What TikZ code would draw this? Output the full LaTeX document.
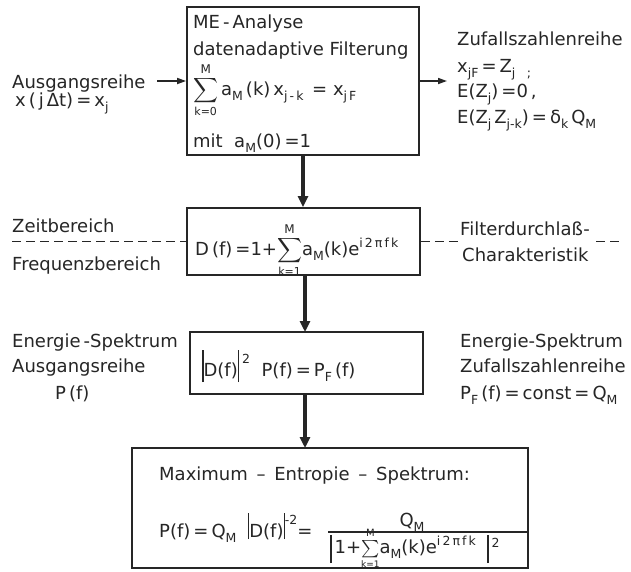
\documentclass[tikz,border=0pt]{standalone}
\usepackage{amsmath}
\usepackage{fontspec}
\setmainfont{DejaVu Sans}
\usetikzlibrary{arrows.meta}
\newcommand{\lo}[1]{\raisebox{-5pt}{\fontsize{12.5}{14}\selectfont #1}}
\newcommand{\hi}[1]{\raisebox{8pt}{\fontsize{12.5}{14}\selectfont #1}}
\newcommand{\hiB}[1]{\raisebox{13pt}{\fontsize{12.5}{14}\selectfont #1}}
\newcommand{\Sum}[2]{$\displaystyle\sum_{\mbox{\fontsize{11}{12}\selectfont #1}}^{\mbox{\fontsize{12}{13}\selectfont #2}}$}
\newcommand{\SumS}[2]{$\textstyle\sum\limits_{\mbox{\fontsize{9}{10}\selectfont #1}}^{\mbox{\fontsize{10}{11}\selectfont #2}}$}
\newcommand{\vbarA}{\rule[-6pt]{1.4pt}{32pt}}
\newcommand{\vbarB}{\rule[-2pt]{1.4pt}{26pt}}
\newcommand{\vbarC}{\smash{\rule[-10pt]{1.4pt}{28pt}}}
\definecolor{ink}{gray}{0.15}
\begin{document}
\begin{tikzpicture}[x=1pt,y=-1pt,
  txt/.style={anchor=base west,inner sep=0pt,text=ink,font=\fontsize{18}{22}\selectfont},
  box/.style={draw=ink,line width=1.8pt,inner sep=0pt},
  flow/.style={draw=ink,line width=3.2pt,-{Triangle[length=11pt,width=10pt]}},
  side/.style={draw=ink,line width=1.6pt,-{Triangle[length=9pt,width=6pt]}},
  dashline/.style={draw=ink,line width=1.4pt,dash pattern=on 9pt off 5pt}]
\useasboundingbox[fill=white] (0,0) rectangle (631,571);

% boxes
\node[box,minimum width=232pt,minimum height=148pt] (b1) at (303,81) {};
\node[box,minimum width=233pt,minimum height=67pt] (b2) at (303.5,241.5) {};
\node[box,minimum width=233pt,minimum height=62pt] (b3) at (306.5,363) {};
\node[box,minimum width=396pt,minimum height=120pt] (b4) at (330,508) {};

% box 1 text
\node[txt] (t1a) at (193,28) {ME\,-\,Analyse};
\node[txt] (t1b) at (193,55) {datenadaptive Filterung};
\node[txt] (t1c) at (193,95) {\Sum{k=0}{M}\,a\lo{M}\,(k)\,x\lo{j\,-\,k}\ \,=\ x\lo{j\,F}};
\node[txt] (t1d) at (193,147) {mit\ \ a\lo{M}(0)\,=1};

% left of box 1
\node[txt] (l1a) at (12,88) {Ausgangsreihe};
\node[txt] (l1b) at (15,106) {x\,(\,j\,Δt)\,=\,x\lo{j}};
\coordinate (ain) at (157,81);
\draw[side] (ain) -- (b1.west);

% right of box 1
\coordinate (aout) at (447,81);
\draw[side] (b1.east) -- (aout);
\node[txt] (r1a) at (457,45) {Zufallszahlenreihe};
\node[txt] (r1b) at (457,72) {x\lo{jF}\,=\,Z\lo{j}\ \ \lo{;}};
\node[txt] (r1c) at (457,97) {E(Z\lo{j})\,=0\,,};
\node[txt] (r1d) at (457,123) {E(Z\lo{j}\,Z\lo{j-k})\,=\,δ\lo{k}\,Q\lo{M}};

% box 2 and side labels
\node[txt] (t2) at (195,255) {D\,(f)\,=1+\Sum{k=1}{M}a\lo{M}(k)e\hi{i\,2\,π\,f\,k}};
\node[txt] (l2a) at (12,232) {Zeitbereich};
\node[txt] (l2b) at (12,270) {Frequenzbereich};
\coordinate (dl) at (12,241.5);
\draw[dashline] (dl) -- (b2.west);
\coordinate (dr1) at (458,241.5);
\coordinate (dr2) at (596,241.5);
\coordinate (dr3) at (622,241.5);
\draw[dashline] (b2.east) -- (dr1);
\draw[dashline] (dr2) -- (dr3);
\node[txt] (r2a) at (460,235) {Filterdurchlaß-};
\node[txt] (r2b) at (462,261) {Charakteristik};

% box 3 and side labels
\node[txt] (t3) at (202,376) {\vbarA D(f)\vbarA\,\hiB{2}\ \ P(f)\,=\,P\lo{F}\,(f)};
\node[txt] (l3a) at (12,347) {Energie\,-Spektrum};
\node[txt] (l3b) at (12,372) {Ausgangsreihe};
\node[txt] (l3c) at (55,399) {P\,(f)};
\node[txt] (r3a) at (460,347) {Energie-Spektrum};
\node[txt] (r3b) at (460,372) {Zufallszahlenreihe};
\node[txt] (r3c) at (460,399) {P\lo{F}\,(f)\,=\,const\,=\,Q\lo{M}};

% box 4
\node[txt] (t4a) at (159,480) {Maximum\, – \,Entropie\, – \,Spektrum:};
\node[txt] (t4b) at (159,537) {P(f)\,=\,Q\lo{M}\ \ \vbarB D(f)\vbarB\hiB{-2}=};
\node[txt,anchor=base] (t4n) at (412,526) {Q\lo{M}};
\node[txt] (t4d) at (330,553) {\vbarC\,1+\smash{\SumS{k=1}{M}}a\lo{M}(k)e\hi{i\,2\,π\,f\,k}\ \ \vbarC\,\raisebox{6pt}{\fontsize{12.5}{14}\selectfont 2}};
\coordinate (fr) at (328,532);
\draw[ink,line width=1.4pt] (fr) -- ++(199,0);

% flow arrows
\draw[flow] (b1.south) -- (b1.south |- b2.north);
\draw[flow] (305,275) -- (305,332);
\draw[flow] (b3.south -| 305,0) -- (305,448);
\end{tikzpicture}
\end{document}
